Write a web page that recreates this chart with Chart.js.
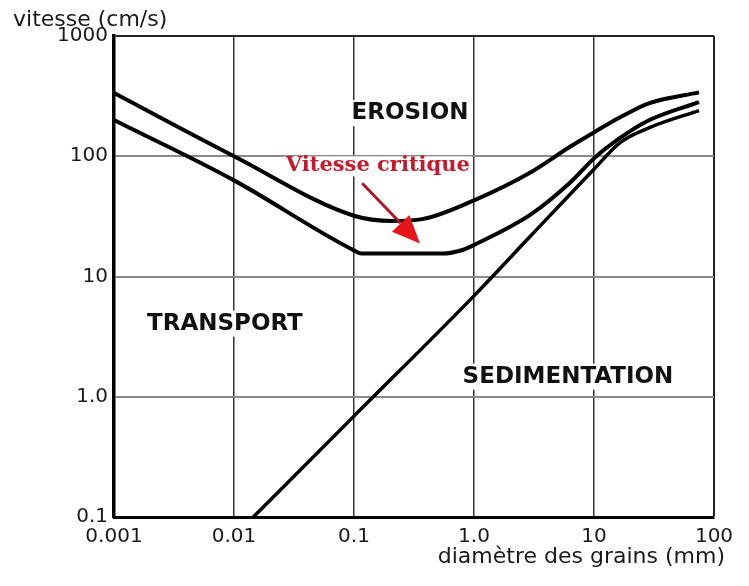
<!DOCTYPE html>
<html>
<head>
<meta charset="utf-8">
<script src="https://cdn.jsdelivr.net/npm/chart.js@4"></script>
<style>
  html, body { margin: 0; padding: 0; background: #fff; }
  #wrap { width: 749px; height: 586px; }
</style>
</head>
<body>
<div id="wrap"><canvas id="hjulstrom" width="749" height="586"></canvas></div>
<script>
// Axis ticks
const xTicks = [0.001, 0.01, 0.1, 1, 10, 100];
const xTickLabels = ['0.001', '0.01', '0.1', '1.0', '10', '100'];
const yTicks = [0.1, 1, 10, 100, 1000];
const yTickLabels = ['0.1', '1.0', '10', '100', '1000'];

// Upper erosion curve (diameter mm, velocity cm/s)
const erosionTopX = [0.001, 0.01, 0.1, 0.21, 0.37, 1, 3, 6.4, 10, 16.5, 29, 75];
const erosionTopY = [335, 100, 32, 29, 30, 43, 74, 121, 158, 211, 277, 340];

// Lower erosion curve
const erosionLowX = [0.001, 0.01, 0.1, 0.116, 0.55, 0.8, 1, 3, 6.4, 10, 16.5, 29, 75];
const erosionLowY = [200, 63, 16.5, 15.5, 15.5, 16.6, 18.3, 33, 61, 96, 142, 200, 282];

// Sedimentation curve
const sedimentX = [0.0145, 0.1, 1, 3, 10, 16.5, 29, 75];
const sedimentY = [0.1, 0.69, 6.9, 22, 78, 130, 173, 240];

// Zone labels
const zoneNames = ['EROSION', 'TRANSPORT', 'SEDIMENTATION'];
const criticalLabel = 'Vitesse critique';
const yTitle = 'vitesse (cm/s)';
const xTitle = 'diamètre des grains (mm)';

function toPoints(xs, ys) {
    return xs.map((x, i) => ({ x: x, y: ys[i] }));
}

function curve(xs, ys, width) {
    return {
        data: toPoints(xs, ys),
        borderColor: '#000',
        borderWidth: width,
        pointRadius: 0,
        cubicInterpolationMode: 'monotone',
        fill: false
    };
}

// draws the zone names, the critical speed arrow and axis titles
const annotations = {
    id: 'annotations',
    beforeDatasetsDraw(chart) {
        const { ctx, scales: { x, y } } = chart;
        const spots = [[0.293, 228], [0.0084, 4.06], [6.07, 1.47]];
        ctx.save();
        ctx.font = 'bold 23px "DejaVu Sans"';
        ctx.textAlign = 'center';
        ctx.textBaseline = 'middle';
        zoneNames.forEach((name, i) => {
            const px = x.getPixelForValue(spots[i][0]);
            const py = y.getPixelForValue(spots[i][1]);
            const w = ctx.measureText(name).width;
            ctx.fillStyle = '#fff';
            ctx.fillRect(px - w / 2 - 4, py - 13, w + 8, 26);
            ctx.fillStyle = '#111';
            ctx.fillText(name, px, py);
        });

        // red label
        ctx.font = 'bold 21px "DejaVu Serif"';
        const lx = x.getPixelForValue(0.158);
        const ly = y.getPixelForValue(84);
        const lw = ctx.measureText(criticalLabel).width;
        ctx.fillStyle = '#fff';
        ctx.fillRect(lx - lw / 2 - 2, ly - 9, lw + 4, 20);
        ctx.fillStyle = '#c41a2c';
        ctx.fillText(criticalLabel, lx, ly);
        ctx.restore();
    },
    afterDraw(chart) {
        const { ctx, scales: { x, y } } = chart;
        ctx.save();

        // arrow
        const x0 = x.getPixelForValue(0.117), y0 = y.getPixelForValue(59.6);
        const x1 = x.getPixelForValue(0.355), y1 = y.getPixelForValue(18.8);
        const ang = Math.atan2(y1 - y0, x1 - x0);
        const headLen = 28, headHalf = 12;
        const bx = x1 - headLen * Math.cos(ang), by = y1 - headLen * Math.sin(ang);
        ctx.strokeStyle = '#b0182a';
        ctx.lineWidth = 3;
        ctx.beginPath();
        ctx.moveTo(x0, y0);
        ctx.lineTo(bx, by);
        ctx.stroke();
        ctx.fillStyle = '#e8141c';
        ctx.beginPath();
        ctx.moveTo(x1, y1);
        ctx.lineTo(bx + headHalf * Math.sin(ang), by - headHalf * Math.cos(ang));
        ctx.lineTo(bx - headHalf * Math.sin(ang), by + headHalf * Math.cos(ang));
        ctx.closePath();
        ctx.fill();

        // axis titles
        ctx.fillStyle = '#1a1a1a';
        ctx.font = '22px "DejaVu Sans"';
        ctx.textBaseline = 'alphabetic';
        ctx.textAlign = 'left';
        ctx.fillText(yTitle, 13, 26);
        ctx.textAlign = 'right';
        ctx.fillText(xTitle, 725, 563);
        ctx.restore();
    }
};

document.addEventListener('DOMContentLoaded', () => {
    const ctx = document.getElementById('hjulstrom').getContext('2d');

    new Chart(ctx, {
        type: 'line',
        data: {
            datasets: [
                curve(erosionTopX, erosionTopY, 4),
                curve(erosionLowX, erosionLowY, 4),
                curve(sedimentX, sedimentY, 3.5)
            ]
        },
        options: {
            responsive: false,
            animation: false,
            layout: { padding: { top: 36, right: 35, left: 0, bottom: 0 } },
            plugins: {
                legend: { display: false },
                tooltip: { enabled: false }
            },
            scales: {
                x: {
                    type: 'logarithmic',
                    min: 0.001,
                    max: 100,
                    afterBuildTicks: s => { s.ticks = xTicks.map(v => ({ value: v })); },
                    afterFit: s => { s.height = 69; },
                    ticks: {
                        autoSkip: false,
                        maxRotation: 0,
                        padding: 8,
                        color: '#1a1a1a',
                        font: { family: '"DejaVu Sans"', size: 20 },
                        callback: (v, i) => xTickLabels[i]
                    },
                    grid: {
                        drawTicks: false,
                        color: c => (c.tick && c.tick.value === 100) ? '#222' : '#333',
                        lineWidth: c => (c.tick && c.tick.value === 100) ? 2 : 1.5
                    },
                    border: { display: true, color: '#000', width: 3 }
                },
                y: {
                    type: 'logarithmic',
                    min: 0.1,
                    max: 1000,
                    afterBuildTicks: s => { s.ticks = yTicks.map(v => ({ value: v })); },
                    afterFit: s => { s.width = 114; },
                    ticks: {
                        autoSkip: false,
                        padding: 6,
                        color: '#1a1a1a',
                        font: { family: '"DejaVu Sans"', size: 20 },
                        callback: (v, i) => yTickLabels[i]
                    },
                    grid: {
                        drawTicks: false,
                        color: c => (c.tick && c.tick.value === 1000) ? '#222' : '#8a8a8a',
                        lineWidth: 2
                    },
                    border: { display: true, color: '#000', width: 3.5 }
                }
            }
        },
        plugins: [annotations]
    });
});
</script>
</body>
</html>
